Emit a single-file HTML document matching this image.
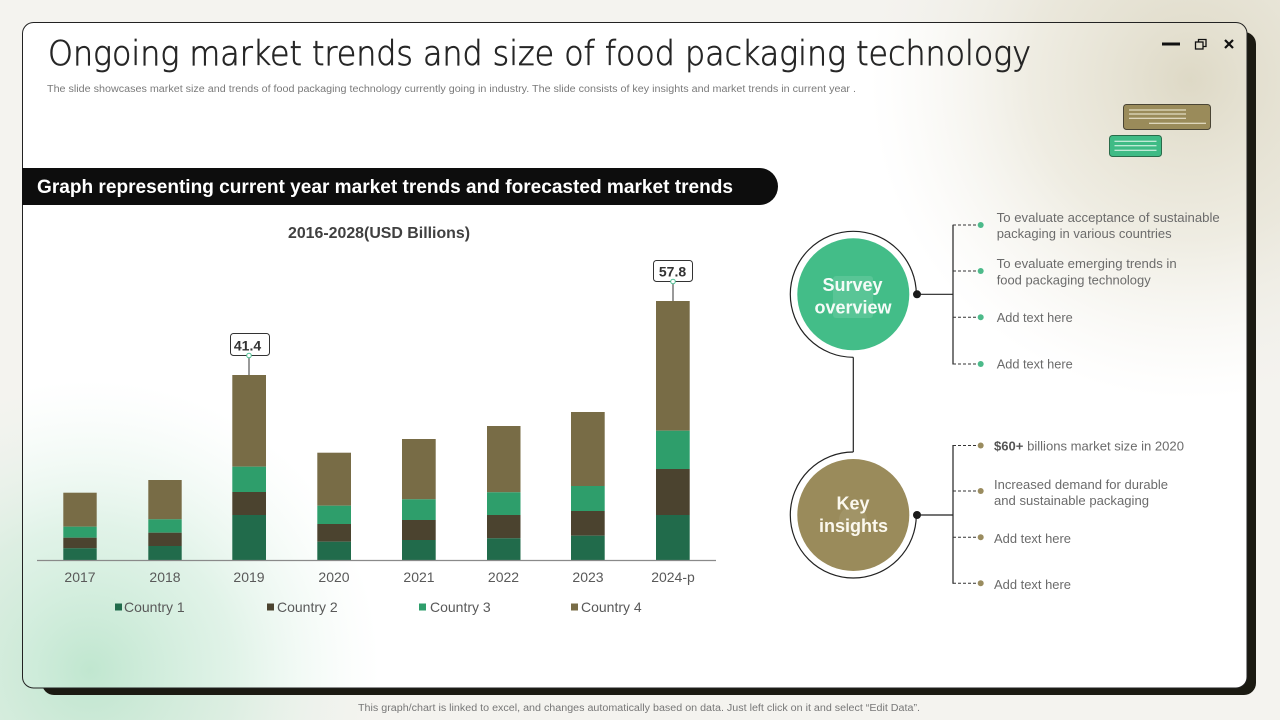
<!DOCTYPE html>
<html>
<head>
<meta charset="utf-8">
<style>
html,body{margin:0;padding:0;background:#f4f3ef;}
svg{display:block;}
text{font-family:"Liberation Sans",Arial,sans-serif;}
text.ttl{font-family:"DejaVu Sans","Liberation Sans",sans-serif;font-weight:200;}
</style>
</head>
<body>
<svg width="1280" height="720" viewBox="0 0 1280 720" xmlns="http://www.w3.org/2000/svg">
<defs>
  <radialGradient id="gGreen" gradientUnits="userSpaceOnUse" cx="90" cy="670" r="290">
    <stop offset="0" stop-color="#bde5cd" stop-opacity="0.95"/>
    <stop offset="0.5" stop-color="#cdebd9" stop-opacity="0.6"/>
    <stop offset="1" stop-color="#e6f4ec" stop-opacity="0"/>
  </radialGradient>
  <radialGradient id="gBeige" gradientUnits="userSpaceOnUse" cx="1190" cy="80" r="320">
    <stop offset="0" stop-color="#dcd7c3" stop-opacity="0.95"/>
    <stop offset="0.5" stop-color="#e4e0cf" stop-opacity="0.6"/>
    <stop offset="1" stop-color="#efede4" stop-opacity="0"/>
  </radialGradient>
  <clipPath id="cardClip">
    <rect x="22.5" y="22.5" width="1224.5" height="665.5" rx="11"/>
  </clipPath>
</defs>

<rect x="0" y="0" width="1280" height="720" fill="#f4f3ef"/>
<rect x="0" y="0" width="1280" height="720" fill="url(#gGreen)"/>
<rect x="0" y="0" width="1280" height="720" fill="url(#gBeige)"/>

<rect x="42" y="32" width="1214" height="663" rx="12" fill="#1b1a12"/>

<rect x="22.5" y="22.5" width="1224.5" height="665.5" rx="11" fill="#ffffff"/>

<g clip-path="url(#cardClip)">
  <rect x="0" y="0" width="1280" height="720" fill="url(#gGreen)"/>
  <rect x="0" y="0" width="1280" height="720" fill="url(#gBeige)"/>
</g>

<rect x="22.5" y="22.5" width="1224.5" height="665.5" rx="11" fill="none" stroke="#222" stroke-width="1"/>

<text class="ttl" x="48" y="65" font-size="34" fill="#262626" stroke="#262626" stroke-width="0.7" textLength="983" lengthAdjust="spacingAndGlyphs">Ongoing market trends and size of food packaging technology</text>
<text x="47" y="92" font-size="10" fill="#7a7a7a" textLength="809" lengthAdjust="spacingAndGlyphs">The slide showcases market size and trends of food packaging technology currently going in  industry. The slide consists of key insights and market trends in current year .</text>

<rect x="1162" y="42.5" width="18" height="3" fill="#111"/>
<rect x="1195.5" y="42" width="7.5" height="7" fill="none" stroke="#111" stroke-width="1.3"/>
<path d="M1198.5,42 V39.5 H1206 V46.5 H1203" fill="none" stroke="#111" stroke-width="1.3"/>
<path d="M1225,40 L1233,48 M1233,40 L1225,48" stroke="#111" stroke-width="2.2"/>

<rect x="1123.5" y="104.5" width="87" height="25" rx="3" fill="#9a8b5a" stroke="#4a4535" stroke-width="1"/>
<line x1="1129" y1="110" x2="1186" y2="110" stroke="#f4f0dc" stroke-width="1"/>
<line x1="1129" y1="114" x2="1186" y2="114" stroke="#f4f0dc" stroke-width="1"/>
<line x1="1129" y1="118.3" x2="1186" y2="118.3" stroke="#f4f0dc" stroke-width="1"/>
<line x1="1149" y1="123.3" x2="1206" y2="123.3" stroke="#f4f0dc" stroke-width="1"/>
<rect x="1109.5" y="135.5" width="52" height="21" rx="3" fill="#3fbb85" stroke="#2a6b4a" stroke-width="1"/>
<line x1="1114.5" y1="141.3" x2="1156.5" y2="141.3" stroke="#eafaf2" stroke-width="1"/>
<line x1="1114.5" y1="145.7" x2="1156.5" y2="145.7" stroke="#eafaf2" stroke-width="1"/>
<line x1="1114.5" y1="150.3" x2="1156.5" y2="150.3" stroke="#eafaf2" stroke-width="1"/>

<path d="M22,168 H759.5 A18.5,18.5 0 0 1 759.5,205 H22 Z" fill="#0d0d0d"/>
<text x="37" y="193" font-size="19" font-weight="bold" fill="#ffffff" textLength="696" lengthAdjust="spacingAndGlyphs">Graph representing current year market trends and forecasted market trends</text>

<text x="379" y="238" font-size="16" font-weight="bold" fill="#404040" text-anchor="middle" textLength="182" lengthAdjust="spacingAndGlyphs">2016-2028(USD Billions)</text>

<g>
  <rect x="63.3" y="492.7" width="33.4" height="34" fill="#786c46"/>
  <rect x="63.3" y="526.7" width="33.4" height="11" fill="#2e9e6b"/>
  <rect x="63.3" y="537.7" width="33.4" height="10.6" fill="#4b432f"/>
  <rect x="63.3" y="548.3" width="33.4" height="11.7" fill="#216b4b"/>

  <rect x="148.3" y="480" width="33.4" height="39.3" fill="#786c46"/>
  <rect x="148.3" y="519.3" width="33.4" height="13.4" fill="#2e9e6b"/>
  <rect x="148.3" y="532.7" width="33.4" height="13.3" fill="#4b432f"/>
  <rect x="148.3" y="546" width="33.4" height="14" fill="#216b4b"/>

  <rect x="232.3" y="375" width="33.7" height="91.7" fill="#786c46"/>
  <rect x="232.3" y="466.7" width="33.7" height="25.3" fill="#2e9e6b"/>
  <rect x="232.3" y="492" width="33.7" height="23" fill="#4b432f"/>
  <rect x="232.3" y="515" width="33.7" height="45" fill="#216b4b"/>

  <rect x="317.3" y="452.7" width="33.7" height="53" fill="#786c46"/>
  <rect x="317.3" y="505.7" width="33.7" height="18.3" fill="#2e9e6b"/>
  <rect x="317.3" y="524" width="33.7" height="17.7" fill="#4b432f"/>
  <rect x="317.3" y="541.7" width="33.7" height="18.3" fill="#216b4b"/>

  <rect x="402" y="439" width="33.7" height="60.3" fill="#786c46"/>
  <rect x="402" y="499.3" width="33.7" height="20.7" fill="#2e9e6b"/>
  <rect x="402" y="520" width="33.7" height="20" fill="#4b432f"/>
  <rect x="402" y="540" width="33.7" height="20" fill="#216b4b"/>

  <rect x="487" y="426" width="33.5" height="66.3" fill="#786c46"/>
  <rect x="487" y="492.3" width="33.5" height="22.7" fill="#2e9e6b"/>
  <rect x="487" y="515" width="33.5" height="23.3" fill="#4b432f"/>
  <rect x="487" y="538.3" width="33.5" height="21.7" fill="#216b4b"/>

  <rect x="571" y="412" width="33.7" height="74" fill="#786c46"/>
  <rect x="571" y="486" width="33.7" height="25" fill="#2e9e6b"/>
  <rect x="571" y="511" width="33.7" height="24.7" fill="#4b432f"/>
  <rect x="571" y="535.7" width="33.7" height="24.3" fill="#216b4b"/>

  <rect x="656" y="301" width="33.7" height="129.7" fill="#786c46"/>
  <rect x="656" y="430.7" width="33.7" height="38.3" fill="#2e9e6b"/>
  <rect x="656" y="469" width="33.7" height="46" fill="#4b432f"/>
  <rect x="656" y="515" width="33.7" height="45" fill="#216b4b"/>
</g>

<line x1="37" y1="560.5" x2="716" y2="560.5" stroke="#8a8a8a" stroke-width="1.2"/>

<g font-size="14" fill="#595959" text-anchor="middle">
  <text x="80" y="582">2017</text>
  <text x="165" y="582">2018</text>
  <text x="249" y="582">2019</text>
  <text x="334" y="582">2020</text>
  <text x="419" y="582">2021</text>
  <text x="503.5" y="582">2022</text>
  <text x="588" y="582">2023</text>
  <text x="673" y="582">2024-p</text>
</g>

<rect x="115" y="603.5" width="7" height="7" fill="#216b4b"/>
<text x="124" y="612" font-size="14" fill="#595959">Country 1</text>
<rect x="267" y="603.5" width="7" height="7" fill="#4b432f"/>
<text x="277" y="612" font-size="14" fill="#595959">Country 2</text>
<rect x="419" y="603.5" width="7" height="7" fill="#2e9e6b"/>
<text x="430" y="612" font-size="14" fill="#595959">Country 3</text>
<rect x="571" y="603.5" width="7" height="7" fill="#786c46"/>
<text x="581" y="612" font-size="14" fill="#595959">Country 4</text>

<line x1="249" y1="357" x2="249" y2="375" stroke="#333" stroke-width="1"/>
<rect x="230.5" y="333.5" width="39" height="22" rx="3" fill="#fff" stroke="#333" stroke-width="1"/>
<text x="247.5" y="350.5" font-size="14" font-weight="bold" fill="#333" text-anchor="middle">41.4</text>
<circle cx="249" cy="355.5" r="2.3" fill="#fff" stroke="#4fc194" stroke-width="1"/>

<line x1="673" y1="283.5" x2="673" y2="301" stroke="#333" stroke-width="1"/>
<rect x="653.5" y="260.5" width="39" height="21" rx="3" fill="#fff" stroke="#333" stroke-width="1"/>
<text x="672.5" y="276.5" font-size="14" font-weight="bold" fill="#333" text-anchor="middle">57.8</text>
<circle cx="673" cy="281.5" r="2.3" fill="#fff" stroke="#4fc194" stroke-width="1"/>

<path d="M916.3,294.3 A63,63 0 1 0 853.3,357.3" fill="none" stroke="#222" stroke-width="1.2"/>
<circle cx="853.3" cy="294.3" r="56" fill="#43bd88"/>
<rect x="833" y="276" width="40" height="42" rx="3" fill="#ffffff" fill-opacity="0.12"/>
<text x="852.5" y="291" font-size="18" font-weight="bold" fill="#f4fbf7" text-anchor="middle">Survey</text>
<text x="853" y="313.5" font-size="18" font-weight="bold" fill="#f4fbf7" text-anchor="middle">overview</text>

<line x1="853.3" y1="357.3" x2="853.3" y2="452" stroke="#222" stroke-width="1.2"/>

<path d="M853.3,452 A63,63 0 1 0 916.3,515" fill="none" stroke="#222" stroke-width="1.2"/>
<circle cx="853.3" cy="515" r="56" fill="#9a8b5b"/>
<circle cx="853" cy="520" r="14" fill="#ffffff" fill-opacity="0.08"/>
<text x="853" y="509.5" font-size="18" font-weight="bold" fill="#fbf8ee" text-anchor="middle">Key</text>
<text x="853.5" y="532" font-size="18" font-weight="bold" fill="#fbf8ee" text-anchor="middle">insights</text>

<circle cx="917" cy="294.3" r="4" fill="#1a1a1a"/>
<line x1="917" y1="294.3" x2="953" y2="294.3" stroke="#222" stroke-width="1.2"/>
<line x1="953" y1="224.8" x2="953" y2="364.5" stroke="#222" stroke-width="1.2"/>
<g stroke="#333" stroke-width="1" stroke-dasharray="3,2">
  <line x1="953" y1="225" x2="978" y2="225"/>
  <line x1="953" y1="271" x2="978" y2="271"/>
  <line x1="953" y1="317.3" x2="978" y2="317.3"/>
  <line x1="953" y1="364" x2="978" y2="364"/>
</g>
<g fill="#4cba8a">
  <circle cx="980.7" cy="225" r="3"/>
  <circle cx="980.7" cy="271" r="3"/>
  <circle cx="980.7" cy="317.3" r="3"/>
  <circle cx="980.7" cy="364" r="3"/>
</g>
<g font-size="13" fill="#6b6b6b">
  <text x="996.7" y="222" textLength="223" lengthAdjust="spacingAndGlyphs">To evaluate  acceptance of sustainable</text>
  <text x="996.7" y="238" textLength="175" lengthAdjust="spacingAndGlyphs">packaging in various  countries</text>
  <text x="996.7" y="268" textLength="180" lengthAdjust="spacingAndGlyphs">To evaluate  emerging trends in</text>
  <text x="996.7" y="284.5" textLength="154" lengthAdjust="spacingAndGlyphs">food  packaging technology</text>
  <text x="996.7" y="322" textLength="76" lengthAdjust="spacingAndGlyphs">Add text here</text>
  <text x="996.7" y="368.5" textLength="76" lengthAdjust="spacingAndGlyphs">Add text here</text>
</g>

<circle cx="917" cy="515" r="4" fill="#1a1a1a"/>
<line x1="917" y1="515" x2="953" y2="515" stroke="#222" stroke-width="1.2"/>
<line x1="953" y1="445" x2="953" y2="583.8" stroke="#222" stroke-width="1.2"/>
<g stroke="#333" stroke-width="1" stroke-dasharray="3,2">
  <line x1="953" y1="445.5" x2="978" y2="445.5"/>
  <line x1="953" y1="491" x2="978" y2="491"/>
  <line x1="953" y1="537.3" x2="978" y2="537.3"/>
  <line x1="953" y1="583.3" x2="978" y2="583.3"/>
</g>
<g fill="#9a8c5f">
  <circle cx="980.7" cy="445.5" r="3"/>
  <circle cx="980.7" cy="491" r="3"/>
  <circle cx="980.7" cy="537.3" r="3"/>
  <circle cx="980.7" cy="583.3" r="3"/>
</g>
<g font-size="13" fill="#6b6b6b">
  <text x="994" y="450.5" textLength="190" lengthAdjust="spacingAndGlyphs"><tspan font-weight="bold" fill="#555">$60+</tspan> billions  market size in 2020</text>
  <text x="994" y="489" textLength="174" lengthAdjust="spacingAndGlyphs">Increased  demand for durable</text>
  <text x="994" y="505" textLength="155" lengthAdjust="spacingAndGlyphs">and  sustainable packaging</text>
  <text x="994" y="543" textLength="77" lengthAdjust="spacingAndGlyphs">Add text here</text>
  <text x="994" y="589" textLength="77" lengthAdjust="spacingAndGlyphs">Add text here</text>
</g>

<text x="639" y="711" font-size="10" fill="#777" text-anchor="middle" textLength="562" lengthAdjust="spacingAndGlyphs">This graph/chart is linked to excel, and changes automatically based on data. Just left click on it and select “Edit Data”.</text>
</svg>
</body>
</html>
